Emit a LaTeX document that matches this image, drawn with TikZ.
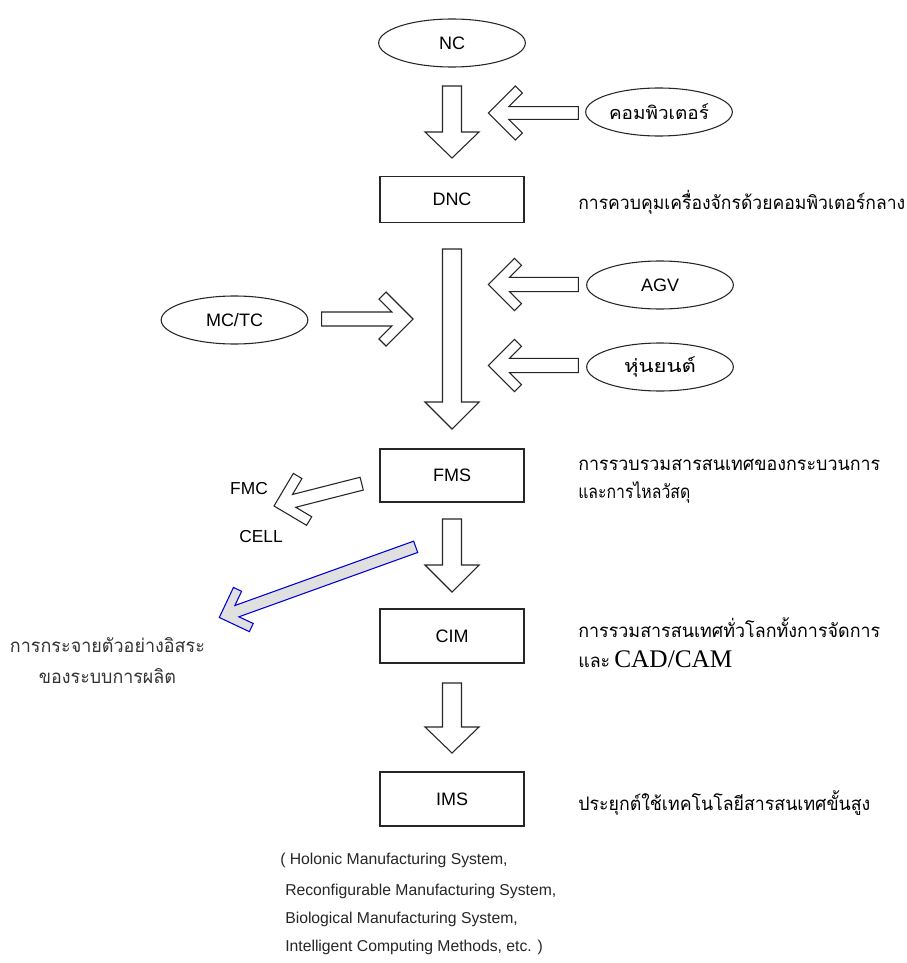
\documentclass[tikz,border=0pt]{standalone}
\usepackage{fontspec}
\usepackage{graphicx}
\usetikzlibrary{shapes.geometric}
\setmainfont{Liberation Sans}
\newfontfamily\thai[Script=Thai]{Loma}
\newfontfamily\serifL{Liberation Serif}
\newlength\pxu \setlength\pxu{0.75pt}
\newcommand\fitto[2]{\resizebox{#1\pxu}{\height}{#2}}
% block arrow pointing down: cx, top, base, tip
\newcommand\dnarrow[4]{%
  \draw[blk] (#1-9.5,#2) -- (#1+9.5,#2) -- (#1+9.5,#3) -- (#1+27,#3) -- (#1,#4)
     -- (#1-27,#3) -- (#1-9.5,#3) -- cycle;}
% chevron-headed arrow: style, tip x, tip y, angle, length, half shaft, head a, arm t
\newcommand\chevarrow[8]{%
  \pgfmathsetmacro\ca{#7+#8/sqrt(2)}%
  \pgfmathsetmacro\cb{-#7+#8/sqrt(2)}%
  \pgfmathsetmacro\cj{#8*sqrt(2)+#6}%
  \draw[#1, shift={(#2,#3)}, rotate=#4] (0,0) -- (#7,-#7) -- (\ca,\cb) -- (\cj,-#6)
     -- (#5,-#6) -- (#5,#6) -- (\cj,#6) -- (\ca,-\cb) -- (#7,#7) -- cycle;}
\tikzset{
  blk/.style={draw=black!85, line width=0.8pt, fill=white, line join=miter},
  bluearr/.style={draw=blue!85!black, line width=0.8pt, fill=black!12},
  ell/.style={draw=black!85, line width=0.8pt, ellipse, inner sep=0pt,
    minimum width=110pt, minimum height=36pt, font=\fontsize{13.5}{16}\selectfont},
  boxn/.style={draw=black!85, line width=0.8pt, rectangle, inner sep=0pt,
    minimum width=108pt, font=\fontsize{13.5}{16}\selectfont},
  lbl/.style={inner sep=0pt, font=\fontsize{13}{15}\selectfont},
  desc/.style={inner sep=0pt, anchor=west, font=\thai\fontsize{14}{16}\selectfont},
  paren/.style={inner sep=0pt, anchor=west, font=\fontsize{11.8}{14}\selectfont, text=black!85},
}
\begin{document}
\begin{tikzpicture}[x=0.75pt, y=-0.75pt]
\useasboundingbox (0,0) rectangle (906,963);
\fill[white] (0,0) rectangle (906,963);

% ellipses
\node[ell] (nc) at (452,43) {NC};
\node[ell] (comp) at (659,112) {\thai\fitto{100}{คอมพิวเตอร์}};
\node[ell] (agv) at (660,285) {AGV};
\node[ell] (mctc) at (234.5,320) {MC/TC};
\node[ell] (robot) at (660,367) {\thai\fitto{72}{หุ่นยนต์}};

% boxes
\node[boxn, minimum height=34pt] (dnc) at (452,199.5) {DNC};
\node[boxn, minimum height=39.75pt] (fms) at (452,475.5) {FMS};
\node[boxn, minimum height=40.5pt] (cim) at (452,636) {CIM};
\node[boxn, minimum height=40.5pt] (ims) at (452,799) {IMS};

% vertical block arrows
\dnarrow{452}{86}{132}{158}
\dnarrow{452}{249}{402}{429}
\dnarrow{452}{519}{565}{592}
\dnarrow{452}{683}{727}{753}

% chevron arrows
\chevarrow{blk}{488.3}{113}{0}{90}{6.3}{27}{10}
\chevarrow{blk}{488.3}{284.5}{0}{90}{7.2}{26.2}{10}
\chevarrow{blk}{488.3}{365.5}{0}{90}{7.2}{26.2}{10}
\chevarrow{blk}{413}{319}{180}{91.3}{7}{27}{10}
\chevarrow{blk}{274}{506}{14.3}{90.5}{6.6}{26.8}{10}
\chevarrow{bluearr}{219.3}{617.5}{19.8}{208.7}{6}{23.5}{9}

% side labels
\node[lbl] (fmc) at (249,489) {FMC};
\node[lbl] (cell) at (261,537) {CELL};

% right descriptions
\node[desc] (d1) at (578,202) {\fitto{327}{การควบคุมเครื่องจักรด้วยคอมพิวเตอร์กลาง}};
\node[desc] (d2a) at (578,465) {\fitto{302}{การรวบรวมสารสนเทศของกระบวนการ}};
\node[desc] (d2b) at (578,493) {\fitto{112}{และการไหลวัสดุ}};
\node[desc] (d3a) at (578,628) {\fitto{302}{การรวมสารสนเทศทั่วโลกทั้งการจัดการ}};
\node[desc, anchor=base west] (d3b) at (578,667) {\fitto{32}{และ}\hspace{3pt}{\serifL\fontsize{19}{21}\selectfont CAD/CAM}};
\node[desc] (d4) at (578,803) {\fitto{292}{ประยุกต์ใช้เทคโนโลยีสารสนเทศขั้นสูง}};

% left description
\node[inner sep=0pt, text=black!80, font=\thai\fontsize{14}{16}\selectfont] (l1) at (107.5,645) {\fitto{195}{การกระจายตัวอย่างอิสระ}};
\node[inner sep=0pt, text=black!80, font=\thai\fontsize{14}{16}\selectfont] (l2) at (107.5,676) {\fitto{137}{ของระบบการผลิต}};

% IMS examples
\node[paren] (p1) at (280,860) {( Holonic Manufacturing System,};
\node[paren] (p2) at (285,891) {Reconfigurable Manufacturing System,};
\node[paren] (p3) at (285,919) {Biological Manufacturing System,};
\node[paren] (p4) at (285,947) {Intelligent Computing Methods, etc. )};
\end{tikzpicture}
\end{document}
